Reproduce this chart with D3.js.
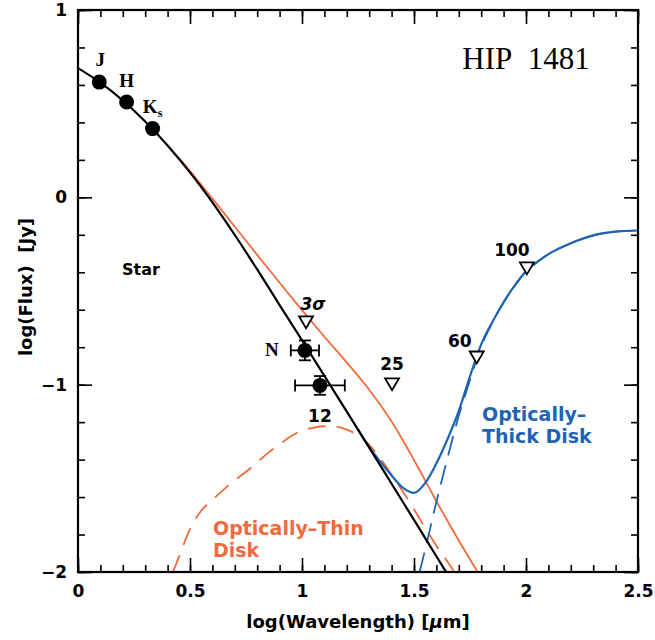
<!DOCTYPE html>
<html>
  <head>
      <meta charset="utf-8">
      <title>HIP 1481 SED</title>
      <script type="text/javascript" src="https://d3js.org/d3.v7.min.js"></script>
      <style>
        body { margin: 0; background: #fff; }
      </style>
  </head>
  <body>

    <script type="text/javascript">
    var w = 655;
    var h = 640;

    // stellar photosphere (black)
    var starX = [0, 0.1, 0.2, 0.3, 0.4, 0.5, 0.6, 0.7, 0.8, 0.9, 1.0, 1.1, 1.2, 1.3, 1.4, 1.5, 1.6, 1.65];
    var starY = [0.69, 0.612, 0.517, 0.405, 0.277, 0.133, -0.027, -0.201, -0.385, -0.575, -0.763, -0.953, -1.144, -1.336, -1.529, -1.722, -1.916, -2.013];

    // star + optically thin disk (orange solid)
    var thinTotX = [0.45, 0.5, 0.6, 0.7, 0.8, 0.9, 1.0, 1.1, 1.2, 1.3, 1.4, 1.5, 1.6, 1.7, 1.8];
    var thinTotY = [0.21, 0.14, -0.007, -0.157, -0.307, -0.456, -0.602, -0.744, -0.882, -1.027, -1.197, -1.402, -1.622, -1.832, -2.032];

    // optically thin disk alone (orange dashed)
    var thinDiskX = [0.424, 0.46, 0.5, 0.55, 0.6, 0.65, 0.7, 0.75, 0.8, 0.85, 0.9, 0.95, 1.0, 1.05, 1.1, 1.15, 1.2, 1.25, 1.3, 1.35, 1.4, 1.45, 1.5, 1.55, 1.6, 1.65, 1.68];
    var thinDiskY = [-2.0, -1.89, -1.77, -1.673, -1.615, -1.56, -1.51, -1.465, -1.415, -1.363, -1.32, -1.275, -1.245, -1.23, -1.222, -1.224, -1.24, -1.27, -1.32, -1.395, -1.48, -1.57, -1.665, -1.765, -1.86, -1.945, -2.0];

    // star + optically thick disk (blue solid)
    var thickTotX = [1.25, 1.3, 1.35, 1.4, 1.45, 1.5, 1.55, 1.6, 1.65, 1.7, 1.75, 1.8, 1.85, 1.9, 1.95, 2.0, 2.05, 2.1, 2.2, 2.3, 2.4, 2.5];
    var thickTotY = [-1.24, -1.332, -1.412, -1.485, -1.55, -1.578, -1.525, -1.42, -1.29, -1.14, -0.955, -0.785, -0.665, -0.56, -0.47, -0.395, -0.345, -0.303, -0.245, -0.203, -0.183, -0.177];

    // optically thick disk alone (blue dashed)
    var thickDiskX = [1.525, 1.55, 1.6, 1.65, 1.7, 1.75, 1.8, 1.85, 1.9, 1.95, 2.0, 2.05, 2.1, 2.2, 2.3, 2.4, 2.5];
    var thickDiskY = [-2.0, -1.88, -1.625, -1.39, -1.165, -0.975, -0.795, -0.668, -0.562, -0.472, -0.396, -0.346, -0.304, -0.245, -0.203, -0.183, -0.177];

    // detections
    var photLabels = ["J", "H", "K", "N", "12"];
    var photX = [0.095, 0.217, 0.333, 1.013, 1.08];
    var photY = [0.615, 0.509, 0.367, -0.817, -1.004];
    var photXErr = [0, 0, 0, 0.063, 0.111];
    var photYErr = [0, 0, 0, 0.053, 0.05];

    // upper limits
    var limLabels = ["3σ", "25", "60", "100"];
    var limX = [1.018, 1.402, 1.78, 2.004];
    var limY = [-0.667, -0.998, -0.855, -0.379];

    // ticks
    var xMajor = [0, 0.5, 1, 1.5, 2, 2.5];
    var xMinor = d3.range(0, 26).map(function(i){ return i / 10; });
    var yMajor = [-2, -1, 0, 1];
    var yMinor = d3.range(-10, 6).map(function(i){ return i / 5; });

    var orange = "#f26a3d";
    var blue = "#1f64b4";

    var xScale = d3.scaleLinear().domain([0, 2.5]).range([78, 638]);
    var yScale = d3.scaleLinear().domain([-2, 1]).range([572, 10]);

    var svg = d3.select("body")
                .append("svg")
                .attr("width", w)
                .attr("height", h)
                .attr("font-family", "DejaVu Sans");

    svg.append("clipPath").attr("id", "plotclip")
       .append("rect")
       .attr("x", 78).attr("y", 10)
       .attr("width", 560).attr("height", 562);

    function pts(xs, ys){
      return xs.map(function(x, i){ return [x, ys[i]]; });
    }
    var line = d3.line()
                 .x(function(d){ return xScale(d[0]); })
                 .y(function(d){ return yScale(d[1]); })
                 .curve(d3.curveMonotoneX);

    var curves = svg.append("g").attr("clip-path", "url(#plotclip)");
    curves.append("path").attr("d", line(pts(thinDiskX, thinDiskY)))
          .attr("fill", "none").attr("stroke", orange).attr("stroke-width", 1.8)
          .attr("stroke-dasharray", "18,11");
    curves.append("path").attr("d", line(pts(thinTotX, thinTotY)))
          .attr("fill", "none").attr("stroke", orange).attr("stroke-width", 1.8);
    curves.append("path").attr("d", line(pts(thickDiskX, thickDiskY)))
          .attr("fill", "none").attr("stroke", blue).attr("stroke-width", 1.8)
          .attr("stroke-dasharray", "20,10");
    curves.append("path").attr("d", line(pts(thickTotX, thickTotY)))
          .attr("fill", "none").attr("stroke", blue).attr("stroke-width", 2.2);
    curves.append("path").attr("d", line(pts(starX, starY)))
          .attr("fill", "none").attr("stroke", "#000").attr("stroke-width", 2.2);

    // axes: ticks inward on all four sides
    function addAxis(axisFn, scale, tickVals, size, transform, withLabels, pad){
      var ax = axisFn(scale).tickValues(tickVals).tickSizeInner(-size).tickSizeOuter(0)
                 .tickPadding(pad || 3);
      if (withLabels) ax.tickFormat(d3.format(""));
      else ax.tickFormat("");
      var g = svg.append("g").attr("transform", transform).call(ax);
      g.select(".domain").remove();
      g.selectAll(".tick line").attr("stroke", "#000").attr("stroke-width", 1.6);
      g.selectAll(".tick text").attr("font-family", "DejaVu Sans")
       .attr("font-weight", "bold").attr("font-size", 17).attr("fill", "#000");
      return g;
    }
    addAxis(d3.axisBottom, xScale, xMinor, 7, "translate(0,572)", false);
    addAxis(d3.axisBottom, xScale, xMajor, 14, "translate(0,572)", true, 13);
    addAxis(d3.axisTop, xScale, xMinor, 7, "translate(0,10)", false);
    addAxis(d3.axisTop, xScale, xMajor, 14, "translate(0,10)", false);
    addAxis(d3.axisLeft, yScale, yMinor, 7, "translate(78,0)", false);
    addAxis(d3.axisLeft, yScale, yMajor, 14, "translate(78,0)", true, 11);
    addAxis(d3.axisRight, yScale, yMinor, 7, "translate(638,0)", false);
    addAxis(d3.axisRight, yScale, yMajor, 14, "translate(638,0)", false);

    svg.append("rect")
       .attr("x", 78).attr("y", 10).attr("width", 560).attr("height", 562)
       .attr("fill", "none").attr("stroke", "#000").attr("stroke-width", 2.2);

    // axis titles
    var xt = svg.append("text")
       .attr("x", 358).attr("y", 628)
       .attr("text-anchor", "middle")
       .attr("font-weight", "bold").attr("font-size", 18)
       .text("log(Wavelength) [");
    xt.append("tspan").attr("font-style", "italic").text("μ");
    xt.append("tspan").text("m]");

    svg.append("text")
       .attr("transform", "translate(32,287) rotate(-90)")
       .attr("text-anchor", "middle")
       .attr("font-weight", "bold").attr("font-size", 18)
       .text("log(Flux)\u00a0 [Jy]");

    // error bars
    var errs = svg.append("g").attr("stroke", "#000").attr("stroke-width", 1.8);
    photX.forEach(function(x, i){
      var cx = xScale(x), cy = yScale(photY[i]);
      if (photXErr[i] > 0) {
        var x0 = xScale(x - photXErr[i]), x1 = xScale(x + photXErr[i]);
        errs.append("line").attr("x1", x0).attr("x2", x1).attr("y1", cy).attr("y2", cy);
        errs.append("line").attr("x1", x0).attr("x2", x0).attr("y1", cy - 6).attr("y2", cy + 6);
        errs.append("line").attr("x1", x1).attr("x2", x1).attr("y1", cy - 6).attr("y2", cy + 6);
      }
      if (photYErr[i] > 0) {
        var y0 = yScale(photY[i] - photYErr[i]), y1 = yScale(photY[i] + photYErr[i]);
        errs.append("line").attr("x1", cx).attr("x2", cx).attr("y1", y0).attr("y2", y1);
        errs.append("line").attr("x1", cx - 6).attr("x2", cx + 6).attr("y1", y0).attr("y2", y0);
        errs.append("line").attr("x1", cx - 6).attr("x2", cx + 6).attr("y1", y1).attr("y2", y1);
      }
    });

    svg.selectAll("circle.phot")
       .data(photX)
       .enter()
       .append("circle")
       .attr("class", "phot")
       .attr("cx", function(d){ return xScale(d); })
       .attr("cy", function(d, i){ return yScale(photY[i]); })
       .attr("r", 7.5)
       .attr("fill", "#000");

    // point labels (offsets in px from the marker)
    var photOff = [[1, -16], [0, -15], [0, -16], [-33, 6], [0, 37]];
    photLabels.forEach(function(lab, i){
      var t = svg.append("text")
         .attr("x", xScale(photX[i]) + photOff[i][0])
         .attr("y", yScale(photY[i]) + photOff[i][1])
         .attr("text-anchor", "middle")
         .attr("font-weight", "bold")
         .attr("font-size", i < 4 ? 19 : 17)
         .attr("font-family", i < 4 ? "Liberation Serif" : "DejaVu Sans")
         .text(lab);
      if (lab === "K") {
        t.append("tspan").attr("font-size", 12).attr("dy", 4).text("s");
      }
    });

    // upper limits
    var lims = svg.append("g");
    limX.forEach(function(x, i){
      var cx = xScale(x), cy = yScale(limY[i]);
      lims.append("path")
          .attr("d", "M" + (cx - 7) + "," + (cy - 6) + "L" + (cx + 7) + "," + (cy - 6) + "L" + cx + "," + (cy + 6) + "Z")
          .attr("fill", "#fff").attr("stroke", "#000").attr("stroke-width", 1.8)
          .attr("stroke-linejoin", "miter");
    });
    var limOff = [[7, -12], [0, -14], [-17, -11], [-15, -12]];
    limLabels.forEach(function(lab, i){
      svg.append("text")
         .attr("x", xScale(limX[i]) + limOff[i][0])
         .attr("y", yScale(limY[i]) + limOff[i][1])
         .attr("text-anchor", "middle")
         .attr("font-weight", "bold").attr("font-size", 17)
         .attr("font-style", i === 0 ? "italic" : "normal")
         .text(lab);
    });

    // annotations
    svg.append("text").attr("x", 122).attr("y", 275)
       .attr("font-weight", "bold").attr("font-size", 16).text("Star");

    svg.append("text").attr("x", 526).attr("y", 69)
       .attr("text-anchor", "middle")
       .attr("font-family", "Liberation Serif").attr("font-size", 31)
       .text("HIP\u00a0\u00a01481");

    svg.append("text").attr("x", 213).attr("y", 535)
       .attr("fill", orange).attr("font-weight", "bold").attr("font-size", 19)
       .text("Optically\u2013Thin");
    svg.append("text").attr("x", 213).attr("y", 557)
       .attr("fill", orange).attr("font-weight", "bold").attr("font-size", 19)
       .text("Disk");

    svg.append("text").attr("x", 482).attr("y", 421)
       .attr("fill", blue).attr("font-weight", "bold").attr("font-size", 19)
       .text("Optically\u2013");
    svg.append("text").attr("x", 482).attr("y", 443)
       .attr("fill", blue).attr("font-weight", "bold").attr("font-size", 19)
       .text("Thick Disk");

    </script>

  </body>

</html>
